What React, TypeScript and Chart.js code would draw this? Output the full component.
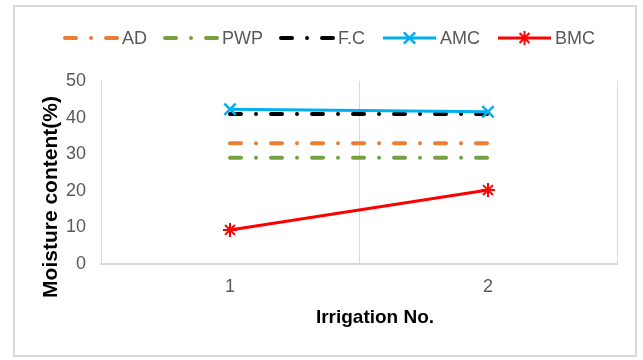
import React, { useEffect, useRef } from "react";
import { Chart, registerables } from "chart.js";

Chart.register(...registerables);

const categories = ["1", "2"];
const adValues = [33, 33];
const pwpValues = [29, 29];
const fcValues = [41, 41];
const amcValues = [42.3, 41.6];
const bmcValues = [9.3, 20.2];
const yTicks = [0, 10, 20, 30, 40, 50];
const seriesNames = ["AD", "PWP", "F.C", "AMC", "BMC"];
const xTitle = "Irrigation No.";
const yTitle = "Moisture content(%)";

const FONT = "'Liberation Sans', Arial, sans-serif";
const DASH = [11, 15, 0.01, 15];

function drawMarker(ctx: CanvasRenderingContext2D, style: string, x: number, y: number, r: number) {
  ctx.beginPath();
  const d = r * Math.SQRT1_2;
  if (style === "crossRot" || style === "star") {
    ctx.moveTo(x - d, y - d);
    ctx.lineTo(x + d, y + d);
    ctx.moveTo(x - d, y + d);
    ctx.lineTo(x + d, y - d);
  }
  if (style === "star") {
    ctx.moveTo(x, y - r);
    ctx.lineTo(x, y + r);
    ctx.moveTo(x - r, y);
    ctx.lineTo(x + r, y);
  }
  ctx.stroke();
}

const customDecor = {
  id: "customDecor",
  afterDraw(chart: any) {
    const ctx: CanvasRenderingContext2D = chart.ctx;
    ctx.save();
    // Legend
    ctx.font = `18px ${FONT}`;
    ctx.textBaseline = "middle";
    ctx.textAlign = "left";
    let x = 50;
    const y = 31;
    chart.data.datasets.forEach((ds: any) => {
      ctx.save();
      ctx.strokeStyle = ds.borderColor;
      ctx.lineWidth = ds.borderWidth;
      ctx.lineCap = ds.borderCapStyle || "butt";
      ctx.setLineDash(ds.borderDash || []);
      ctx.beginPath();
      ctx.moveTo(x, y);
      ctx.lineTo(x + 53, y);
      ctx.stroke();
      ctx.setLineDash([]);
      if (ds.pointRadius > 0) {
        ctx.lineWidth = ds.pointBorderWidth;
        ctx.lineCap = "butt";
        drawMarker(ctx, ds.pointStyle, x + 26.5, y, ds.pointRadius);
      }
      ctx.restore();
      ctx.fillStyle = "#595959";
      ctx.fillText(ds.label, x + 57, y + 1);
      x += 57 + ctx.measureText(ds.label).width + 18;
    });
    // Axis titles
    ctx.fillStyle = "#000000";
    ctx.textAlign = "center";
    ctx.textBaseline = "middle";
    ctx.font = `bold 19px ${FONT}`;
    ctx.fillText(xTitle, 360, 311);
    ctx.translate(36, 190);
    ctx.rotate(-Math.PI / 2);
    ctx.font = `bold 21px ${FONT}`;
    ctx.fillText(yTitle, 0, 0);
    ctx.restore();
  },
};

export default function App() {
  const ref = useRef<HTMLCanvasElement>(null);
  useEffect(() => {
    if (!ref.current) return;
    const common = { borderCapStyle: "round", pointRadius: 0, pointHoverRadius: 0, fill: false, tension: 0 };
    const chart = new Chart(ref.current, {
      type: "line",
      data: {
        labels: categories,
        datasets: [
          { label: seriesNames[0], data: adValues, borderColor: "#ed7d31", backgroundColor: "#ed7d31", borderWidth: 4, borderDash: DASH, order: 5, ...common },
          { label: seriesNames[1], data: pwpValues, borderColor: "#77a041", backgroundColor: "#77a041", borderWidth: 4, borderDash: DASH, order: 4, ...common },
          { label: seriesNames[2], data: fcValues, borderColor: "#000000", backgroundColor: "#000000", borderWidth: 4, borderDash: DASH, order: 3, ...common },
          {
            label: seriesNames[3], data: amcValues, borderColor: "#00b0f0", backgroundColor: "#00b0f0", borderWidth: 3, order: 2,
            borderCapStyle: "butt", pointStyle: "crossRot", pointRadius: 8, pointHoverRadius: 8, pointBorderWidth: 2.5, pointBorderColor: "#00b0f0", fill: false,
          },
          {
            label: seriesNames[4], data: bmcValues, borderColor: "#ff0000", backgroundColor: "#ff0000", borderWidth: 3, order: 1,
            borderCapStyle: "butt", pointStyle: "star", pointRadius: 7, pointHoverRadius: 7, pointBorderWidth: 2, pointBorderColor: "#ff0000", fill: false,
          },
        ] as any,
      },
      options: {
        responsive: false,
        animation: false,
        events: [],
        layout: { padding: { top: 74, right: 18, left: 0, bottom: 0 } },
        plugins: { legend: { display: false }, tooltip: { enabled: false }, title: { display: false } },
        scales: {
          x: {
            type: "category",
            offset: true,
            grid: { display: true, offset: true, color: "#d9d9d9", lineWidth: 1, drawTicks: false },
            border: { display: true, color: "#d9d9d9", width: 2 },
            ticks: { color: "#595959", font: { family: FONT, size: 18 }, padding: 12 },
            afterFit: (s: any) => { s.height = 91; },
          },
          y: {
            min: 0,
            max: 50,
            afterBuildTicks: (s: any) => { s.ticks = yTicks.map((v) => ({ value: v })); },
            grid: { display: false, drawTicks: false },
            border: { display: true, color: "#d9d9d9", width: 1 },
            ticks: { color: "#595959", font: { family: FONT, size: 18 }, padding: 15 },
            afterFit: (s: any) => { s.width = 86; },
          },
        },
      } as any,
      plugins: [customDecor],
    });
    return () => chart.destroy();
  }, []);
  return (
    <div
      style={{
        position: "absolute",
        left: 13,
        top: 5,
        width: 624,
        height: 352,
        border: "2px solid #d9d9d9",
        boxSizing: "border-box",
        background: "#ffffff",
      }}
    >
      <canvas ref={ref} width={620} height={348} style={{ display: "block", width: 620, height: 348 }} />
    </div>
  );
}
